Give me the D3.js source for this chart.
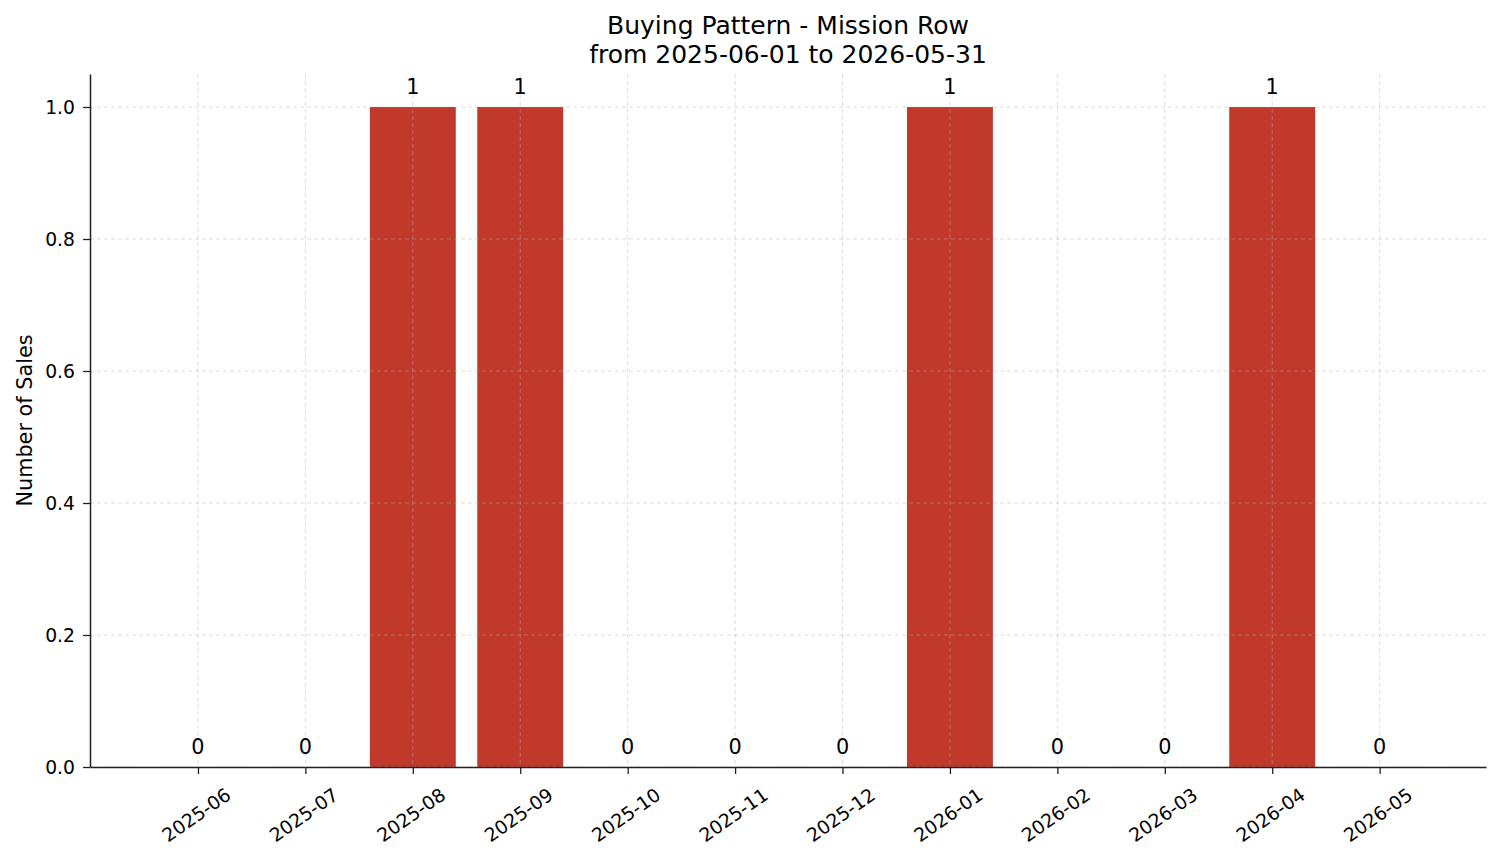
<!DOCTYPE html>
<html><head><meta charset="utf-8">
<script src="https://cdn.jsdelivr.net/npm/d3@7"></script>
<style>body{margin:0;background:#fff}svg{display:block}text{font-family:"DejaVu Sans",sans-serif;fill:#000}</style>
</head><body>
<svg id="c" width="1501" height="863"></svg>
<script>
const months = ["2025-06","2025-07","2025-08","2025-09","2025-10","2025-11","2025-12","2026-01","2026-02","2026-03","2026-04","2026-05"];
const sales = [0,0,1,1,0,0,0,1,0,0,1,0];
const yTicks = [0.0,0.2,0.4,0.6,0.8,1.0];
const titleLines = ["Buying Pattern - Mission Row","from 2025-06-01 to 2026-05-31"];

const svg = d3.select("#c");
const L=90,R=1486,T=74,B=767;
const x = d3.scaleLinear().domain([-1.005,11.99]).range([L,R]);
const step = x(1)-x(0);
const y = d3.scaleLinear().domain([0,1.05]).range([B,T]);

// bars
svg.append("g").selectAll("rect").data(sales).join("rect")
  .attr("x",(d,i)=>x(i)-step*0.4).attr("width",step*0.8)
  .attr("y",d=>y(d)).attr("height",d=>B-y(d)).attr("fill","#c0392b");

// grid
const g = svg.append("g").attr("stroke","#b0b0b0").attr("stroke-opacity",0.55).attr("stroke-dasharray","4,3").attr("stroke-width",0.8);
g.selectAll(".gy").data(yTicks).join("line").attr("x1",L).attr("x2",R).attr("y1",d=>y(d)).attr("y2",d=>y(d));
g.selectAll(".gx").data(months).join("line").attr("x1",(d,i)=>x(i)).attr("x2",(d,i)=>x(i)).attr("y1",T).attr("y2",B);

// axes
const ax = svg.append("g").attr("transform",`translate(0,${B})`)
  .call(d3.axisBottom(x).tickValues(d3.range(months.length)).tickFormat(i=>months[i]).tickSize(7).tickSizeOuter(0));
ax.select(".domain").attr("stroke","#222").attr("stroke-width",1.5);
ax.selectAll(".tick line").attr("stroke","#222").attr("stroke-width",1.3);
ax.selectAll(".tick text").attr("font-size",18.75).attr("font-family","DejaVu Sans")
  .attr("text-anchor","middle").attr("dy",null).attr("y",null)
  .attr("dominant-baseline","central")
  .attr("transform","translate(-2,48) rotate(-35)");

const ay = svg.append("g").attr("transform",`translate(${L},0)`)
  .call(d3.axisLeft(y).tickValues(yTicks).tickFormat(d3.format(".1f")).tickSize(7).tickSizeOuter(0));
ay.select(".domain").attr("stroke","#222").attr("stroke-width",1.5);
ay.selectAll(".tick line").attr("stroke","#222").attr("stroke-width",1.3);
ay.selectAll(".tick text").attr("font-size",18.75).attr("font-family","DejaVu Sans").attr("x",-15);

// value labels
svg.append("g").selectAll("text").data(sales).join("text")
  .attr("x",(d,i)=>x(i)).attr("y",d=>y(d)-13.5).attr("text-anchor","middle").attr("font-size",20.8).text(d=>d);

// y label
svg.append("text").attr("transform",`translate(32,${(T+B)/2}) rotate(-90)`).attr("text-anchor","middle")
  .attr("font-size",20.8).text("Number of Sales");

// title
svg.append("g").selectAll("text").data(titleLines).join("text")
  .attr("x",(L+R)/2).attr("y",(d,i)=>34+i*29).attr("text-anchor","middle").attr("font-size",25).text(d=>d);
</script>
</body></html>
